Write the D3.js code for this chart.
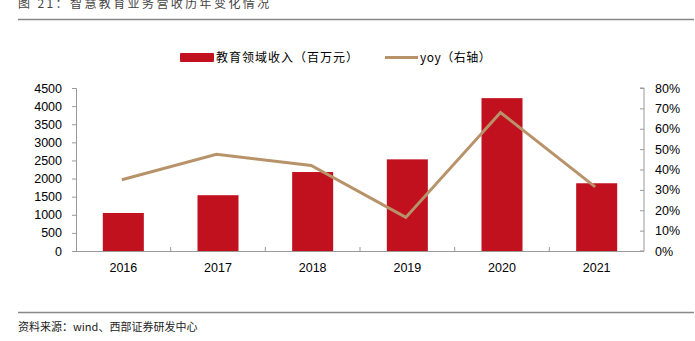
<!DOCTYPE html>
<html><head><meta charset="utf-8">
<script src="https://cdn.jsdelivr.net/npm/d3@7"></script>
<style>body{margin:0;background:#fff}svg{display:block}</style>
</head><body>
<svg id="c" width="695" height="341"></svg>
<script>
const categories = ["2016","2017","2018","2019","2020","2021"];
const revenue = [1050, 1540, 2180, 2530, 4220, 1870];
const yoy = [0.35, 0.475, 0.42, 0.165, 0.68, 0.315];
const leftTicks = [0,500,1000,1500,2000,2500,3000,3500,4000,4500];
const rightTicks = [0,0.1,0.2,0.3,0.4,0.5,0.6,0.7,0.8];
const titleText = "图 21：智慧教育业务营收历年变化情况";
const sourceText = "资料来源：wind、西部证券研发中心";
const legendBar = "教育领域收入（百万元）";
const legendLine = "yoy（右轴）";

const svg = d3.select("#c");
const L = 76, R = 644, T = 88, B = 251;
const barColor = "#c1101e", lineColor = "#b8936a", axisColor = "#999";
const cjk = "'Noto Sans CJK SC', sans-serif";
const lat = "'Liberation Sans', Arial, sans-serif";

const xb = d3.scaleBand().domain(categories).range([L, R]);
const yL = d3.scaleLinear().domain([0, 4500]).range([B, T]);
const yR = d3.scaleLinear().domain([0, 0.8]).range([B, T]);

// title + rules
svg.append("text").attr("x", 18).attr("y", 8).attr("font-family", cjk).attr("font-size", 12)
  .attr("fill", "#444").attr("letter-spacing", 2.4).text(titleText);
svg.append("line").attr("x1", 18).attr("x2", 694).attr("y1", 19.5).attr("y2", 19.5).attr("stroke", "#888").attr("stroke-width", 1.5);
svg.append("line").attr("x1", 18).attr("x2", 694).attr("y1", 312.5).attr("y2", 312.5).attr("stroke", "#888").attr("stroke-width", 1.5);
svg.append("text").attr("x", 18).attr("y", 331).attr("font-family", cjk).attr("font-size", 11)
  .attr("fill", "#222").text(sourceText);

// bars
svg.append("g").selectAll("rect").data(categories).join("rect")
  .attr("x", d => xb(d) + xb.bandwidth()/2 - 20.5)
  .attr("width", 41)
  .attr("y", (d,i) => yL(revenue[i]))
  .attr("height", (d,i) => B - yL(revenue[i]))
  .attr("fill", barColor);

// left axis
const gl = svg.append("g").attr("transform", `translate(${L},0)`)
  .call(d3.axisLeft(yL).tickValues(leftTicks).tickSize(4).tickPadding(10).tickFormat(d3.format("d")));
gl.selectAll("path,line").attr("stroke", axisColor);
gl.selectAll("text").attr("font-family", lat).attr("font-size", 12.5).attr("fill", "#000");

// right axis (ticks inward)
const gr = svg.append("g").attr("transform", `translate(${R},0)`)
  .call(d3.axisRight(yR).tickValues(rightTicks).tickSize(-4).tickPadding(11).tickFormat(d3.format(".0%")));
gr.select(".domain").attr("d", `M-4,${T}H0V${B}H-4`);
gr.selectAll("path,line").attr("stroke", axisColor);
gr.selectAll("text").attr("font-family", lat).attr("font-size", 12.5).attr("fill", "#000");

// bottom axis
const gb = svg.append("g").attr("transform", `translate(0,${B})`)
  .call(d3.axisBottom(xb).tickSize(0).tickPadding(12));
gb.select(".domain").attr("d", `M${L},0.5H${R}`).attr("stroke", axisColor);
gb.selectAll("text").attr("font-family", lat).attr("font-size", 12.5).attr("fill", "#000");
svg.append("g").selectAll("line").data(categories.slice(1)).join("line")
  .attr("x1", d => xb(d)).attr("x2", d => xb(d)).attr("y1", B - 4).attr("y2", B)
  .attr("stroke", axisColor);

// line
const line = d3.line().x((d,i) => xb(categories[i]) + xb.bandwidth()/2 - 1.5).y(d => yR(d));
svg.append("path").datum(yoy).attr("d", line).attr("fill", "none")
  .attr("stroke", lineColor).attr("stroke-width", 3);

// legend
svg.append("rect").attr("x", 180).attr("y", 53).attr("width", 34).attr("height", 9).attr("rx", 1).attr("fill", barColor);
svg.append("text").attr("x", 216).attr("y", 62).attr("font-family", cjk).attr("font-size", 12).attr("letter-spacing", 1).attr("fill", "#000").text(legendBar);
svg.append("line").attr("x1", 385).attr("x2", 418).attr("y1", 57.5).attr("y2", 57.5).attr("stroke", lineColor).attr("stroke-width", 3);
svg.append("text").attr("x", 420).attr("y", 62).attr("font-family", cjk).attr("font-size", 12).attr("letter-spacing", 0.5).attr("fill", "#000").text(legendLine);
</script>
</body></html>
